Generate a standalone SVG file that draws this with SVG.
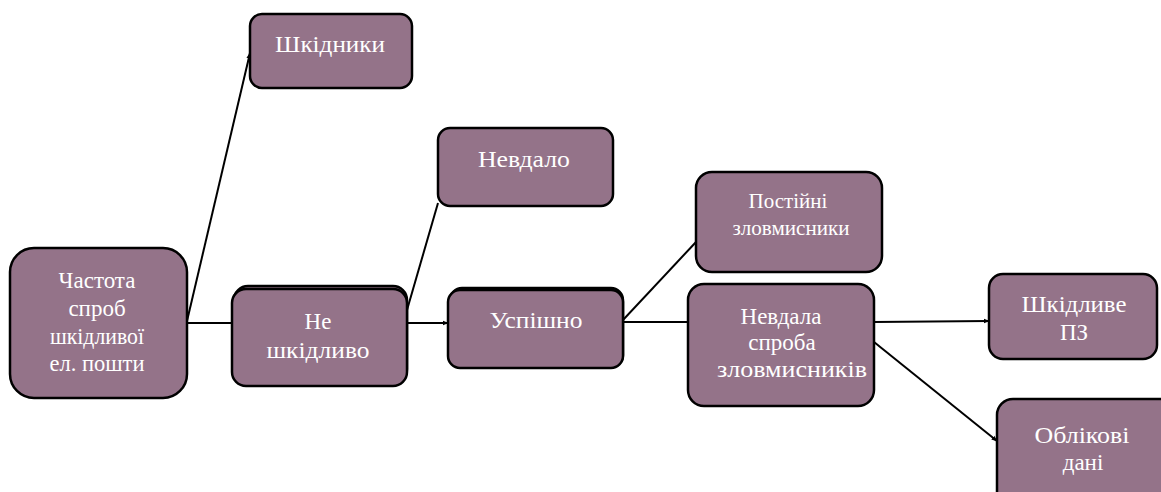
<svg xmlns="http://www.w3.org/2000/svg" width="1161" height="492" viewBox="0 0 1161 492">
  <style>
    .box { fill: #947389; stroke: #000; stroke-width: 2.5; }
    .lbl { font-family: "Liberation Serif", "Times New Roman", serif; font-size: 23px; fill: #ffffff; text-anchor: middle; }
    .sm { font-size: 21px; }
    .edge { stroke: #000; stroke-width: 2; fill: none; }
  </style>
  <defs>
    <marker id="arr" viewBox="0 0 10 10" refX="9" refY="5" markerWidth="6" markerHeight="6" orient="auto" markerUnits="userSpaceOnUse">
      <path d="M0,1 L10,5 L0,9 z" fill="#000"/>
    </marker>
  </defs>
  <rect width="1161" height="492" fill="#ffffff"/>

  <!-- connectors -->
  <g id="connectors">
    <line class="edge" x1="187" y1="321" x2="250" y2="53" marker-end="url(#arr)"/>
    <line class="edge" x1="187" y1="323" x2="233" y2="323"/>
    <line class="edge" x1="407" y1="310" x2="438" y2="203"/>
    <line class="edge" x1="407" y1="323" x2="448" y2="323" marker-end="url(#arr)"/>
    <line class="edge" x1="623" y1="320" x2="696" y2="242"/>
    <line class="edge" x1="623" y1="322" x2="688" y2="322"/>
    <line class="edge" x1="874" y1="322" x2="989" y2="321" marker-end="url(#arr)"/>
    <line class="edge" x1="874" y1="342" x2="997" y2="441" marker-end="url(#arr)"/>
  </g>

  <g id="node-shkidnyky">
    <rect class="box" x="250" y="14" width="162" height="74" rx="12"/>
    <text class="lbl" x="330" y="52" font-size="24" textLength="110" lengthAdjust="spacingAndGlyphs">Шкідники</text>
  </g>

  <g id="node-chastota">
    <rect class="box" x="10" y="248" width="177" height="150" rx="24"/>
    <text class="lbl" x="97" y="288">Частота</text>
    <text class="lbl" x="97" y="316">спроб</text>
    <text class="lbl" x="97" y="344" textLength="94" lengthAdjust="spacingAndGlyphs">шкідливої</text>
    <text class="lbl" x="97" y="371" textLength="95" lengthAdjust="spacingAndGlyphs">ел. пошти</text>
  </g>

  <g id="node-ne-shkidlyvo">
    <rect class="box" x="234" y="286" width="173" height="97" rx="14"/>
    <rect class="box" x="232" y="289" width="175" height="97" rx="14"/>
    <text class="lbl" x="318" y="329">Не</text>
    <text class="lbl" x="318" y="358" textLength="103" lengthAdjust="spacingAndGlyphs">шкідливо</text>
  </g>

  <g id="node-uspishno">
    <rect class="box" x="450" y="288" width="173" height="79" rx="12"/>
    <rect class="box" x="448" y="290" width="175" height="78" rx="12"/>
    <text class="lbl" x="536" y="328" textLength="93" lengthAdjust="spacingAndGlyphs">Успішно</text>
  </g>

  <g id="node-nevdalo">
    <rect class="box" x="438" y="128" width="175" height="78" rx="12"/>
    <text class="lbl" x="524" y="167" textLength="92" lengthAdjust="spacingAndGlyphs">Невдало</text>
  </g>

  <g id="node-postiini">
    <rect class="box" x="696" y="172" width="186" height="100" rx="16"/>
    <text class="lbl sm" x="788" y="208">Постійні</text>
    <text class="lbl sm" x="791" y="235" textLength="117" lengthAdjust="spacingAndGlyphs">зловмисники</text>
  </g>

  <g id="node-nevdala-sproba">
    <rect class="box" x="688" y="284" width="186" height="122" rx="16"/>
    <text class="lbl" x="781" y="324">Невдала</text>
    <text class="lbl" x="782" y="350">спроба</text>
    <text class="lbl" x="792" y="377" textLength="150" lengthAdjust="spacingAndGlyphs">зловмисників</text>
  </g>

  <g id="node-shkidlyve-pz">
    <rect class="box" x="989" y="274" width="168" height="85" rx="14"/>
    <text class="lbl" x="1074" y="312" textLength="105" lengthAdjust="spacingAndGlyphs">Шкідливе</text>
    <text class="lbl" x="1074" y="340">ПЗ</text>
  </g>

  <g id="node-oblikovi-dani">
    <rect class="box" x="997" y="399" width="180" height="110" rx="16"/>
    <text class="lbl" x="1082" y="443" textLength="95" lengthAdjust="spacingAndGlyphs">Облікові</text>
    <text class="lbl" x="1083" y="470">дані</text>
  </g>
</svg>
